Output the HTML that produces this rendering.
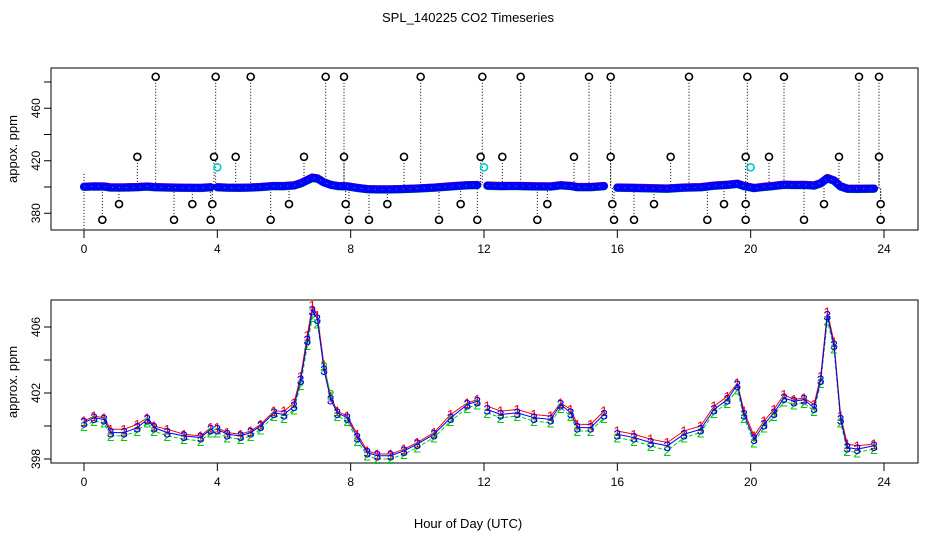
<!DOCTYPE html>
<html><head><meta charset="utf-8"><style>
body{margin:0;background:#fff;width:936px;height:540px;overflow:hidden}
svg{font-family:"Liberation Sans",sans-serif}
</style></head><body>
<svg id="c" width="936" height="540">
<text x="468" y="22" text-anchor="middle" font-size="13">SPL_140225  CO2 Timeseries</text>
<text x="468" y="528" text-anchor="middle" font-size="13">Hour of Day (UTC)</text>
<text transform="translate(17,149) rotate(-90)" text-anchor="middle" font-size="13">appox. ppm</text>
<text transform="translate(17,382) rotate(-90)" text-anchor="middle" font-size="13">approx. ppm</text>
<g id="topPanel"></g>
<g id="botPanel"></g>
</svg>
<script>
const hours=[0,0.3,0.6,0.8,1.2,1.6,1.9,2.1,2.5,3.0,3.5,3.8,3.9,4.0,4.3,4.7,5.0,5.3,5.7,6.0,6.3,6.5,6.7,6.85,7.0,7.2,7.4,7.6,7.9,8.2,8.5,8.8,9.2,9.6,10.0,10.5,11.0,11.5,11.8,11.9,12.1,12.5,13.0,13.5,14.0,14.3,14.6,14.8,15.2,15.6,15.8,16.0,16.5,17.0,17.5,18.0,18.5,18.9,19.3,19.6,19.8,20.1,20.4,20.7,21.0,21.3,21.6,21.9,22.1,22.3,22.5,22.7,22.9,23.2,23.7];
const s3=[400.2,400.5,400.4,399.6,399.6,399.9,400.4,399.9,399.6,399.4,399.3,399.8,null,399.8,399.5,399.4,399.6,400.0,400.8,400.7,401.2,402.8,405.2,407.0,406.5,403.4,401.6,400.8,400.5,399.3,398.4,398.2,398.2,398.5,398.9,399.5,400.5,401.3,401.5,null,401.0,400.7,400.8,400.5,400.4,401.3,400.8,399.9,399.9,400.7,null,399.5,399.3,399.0,398.8,399.5,399.8,401.0,401.6,402.5,400.7,399.2,400.1,400.8,401.7,401.5,401.6,401.1,402.8,406.7,404.9,400.4,398.7,398.6,398.8];
const s1=[400.3,400.6,400.5,399.8,399.8,400.1,400.5,400.0,399.8,399.5,399.4,399.9,null,399.9,399.6,399.5,399.7,400.1,400.9,400.9,401.4,403.0,405.5,407.3,406.7,403.7,401.8,400.9,400.6,399.5,398.5,398.3,398.3,398.6,399.0,399.6,400.7,401.4,401.6,null,401.2,400.9,401.0,400.7,400.6,401.4,401.0,400.1,400.1,400.9,null,399.7,399.5,399.2,399.0,399.7,400.0,401.2,401.8,402.6,400.9,399.4,400.3,401.0,401.9,401.6,401.7,401.3,403.0,406.9,405.1,400.6,398.9,398.8,398.9];
const s2=[400.0,400.3,400.2,399.4,399.4,399.7,400.2,399.7,399.4,399.2,399.1,399.6,null,399.6,399.3,399.2,399.4,399.8,400.6,400.5,401.0,402.5,404.9,406.6,406.2,403.6,401.9,400.6,400.3,399.1,398.2,398.0,398.0,398.3,398.7,399.3,400.3,401.1,401.3,null,400.8,400.5,400.6,400.3,400.2,401.1,400.6,399.7,399.7,400.5,null,399.3,399.1,398.8,398.5,399.3,399.6,400.8,401.4,402.2,400.5,399.0,399.9,400.6,401.5,401.3,401.4,400.9,402.6,406.4,404.7,400.2,398.5,398.4,398.6];
const outHours=[2.15,3.95,5.0,7.25,7.8,10.1,11.95,13.1,15.15,15.8,18.15,19.9,21.0,23.25,23.85,1.6,3.9,4.55,6.6,7.8,9.6,11.9,12.55,14.7,15.8,17.6,19.85,20.55,22.65,23.85,1.05,3.25,3.85,6.15,7.85,9.1,11.3,13.9,15.85,17.1,19.2,19.85,22.2,23.9,0.55,2.7,3.8,5.6,7.95,8.55,10.65,11.8,13.6,15.9,16.5,18.7,19.85,21.6,23.9];
const outVals=[484,484,484,484,484,484,484,484,484,484,484,484,484,484,484,423,423,423,423,423,423,423,423,423,423,423,423,423,423,423,387,387,387,387,387,387,387,387,387,387,387,387,387,387,375,375,375,375,375,375,375,375,375,375,375,375,375,375,375];
const calHours=[4.0,12.0,20.0];
const calVals=[415,415,415];
const xTicks=[0,4,8,12,16,20,24];
const topTicks=[380,400,420,440,460,480];
const topLabels=["380","","420","","460",""];
const botTicks=[398,400,402,404,406];
const botLabels=["398","","402","","406"];

const NS="http://www.w3.org/2000/svg";
function mk(p,t,a){const e=document.createElementNS(NS,t);for(const k in a)e.setAttribute(k,a[k]);p.appendChild(e);return e;}
const L=51,R=918;
const X=h=>84+h*(800/24);
const YT=v=>187-(v-400)*1.3125;
const YB=v=>393-(v-402)*16.5;
const gTop=document.getElementById('topPanel'),gBot=document.getElementById('botPanel');

function frame(g,t,b,ticks,labels,Y,ynm){
  const r=mk(g,'rect',{x:L,y:t,width:R-L,height:b-t,fill:'none',stroke:'#000','stroke-width':1});
  
  
  xTicks.forEach(h=>{
    mk(g,'line',{x1:X(h),x2:X(h),y1:b,y2:b+8,stroke:'#000'});
    const tx=mk(g,'text',{x:X(h),y:b+23,'text-anchor':'middle','font-size':12});
    tx.textContent=h;
    
    
  });
  ticks.forEach((v,i)=>{
    mk(g,'line',{x1:L-7,x2:L,y1:Y(v),y2:Y(v),stroke:'#000'});
    if(labels[i]){
      const tx=mk(g,'text',{transform:`translate(${L-11},${Y(v)}) rotate(-90)`,'text-anchor':'middle','font-size':12});
      tx.textContent=labels[i];
      
      
    }
  });
}
frame(gTop,68,230,topTicks,topLabels,YT,'top-y-tick-label');
frame(gBot,300,463,botTicks,botLabels,YB,'bottom-y-tick-label');

mk(gTop,'line',{x1:X(0),x2:X(0),y1:YT(410),y2:240,stroke:'#000','stroke-dasharray':'1,2'});
function nearest(h){let best=0;hours.forEach((x,i)=>{if(s3[i]!=null&&Math.abs(x-h)<Math.abs(hours[best]-h))best=i;});return s3[best];}
outHours.forEach((h,i)=>{
  mk(gTop,'line',{x1:X(h),x2:X(h),y1:YT(outVals[i]),y2:YT(nearest(h)),stroke:'#000','stroke-dasharray':'1,2'});
});
function pathOf(arr,Y){let d='',pen=false;hours.forEach((h,i)=>{if(arr[i]==null){pen=false;return;}d+=(pen?'L':'M')+X(h)+','+Y(arr[i]);pen=true;});return d;}
[[s1,'#f00'],[s2,'#0c0'],[s3,'#00f']].forEach(([a,c],k)=>{
  const p=mk(gTop,'path',{d:pathOf(a,YT),fill:'none',stroke:c,'stroke-width':8,'stroke-linecap':'round','stroke-linejoin':'round'});
  
  
});
mk(gTop,'path',{d:pathOf(s3,YT),fill:'none',stroke:'#0c0','stroke-width':1,'stroke-dasharray':'1,6'});
outHours.forEach((h,i)=>{
  const c=mk(gTop,'circle',{cx:X(h),cy:YT(outVals[i]),r:3.5,fill:'#fff',stroke:'#000','stroke-width':1.6});
  
  
});
calHours.forEach((h,i)=>{
  const c=mk(gTop,'circle',{cx:X(h),cy:YT(calVals[i]),r:3.5,fill:'none',stroke:'#0cc','stroke-width':1.6});
  
  
});

[[s1,'#f00','1'],[s2,'#0c0','2'],[s3,'#00f','3']].forEach(([a,c,lab],k)=>{
  const p=mk(gBot,'path',{d:pathOf(a,YB),fill:'none',stroke:c,'stroke-width':1,'stroke-dasharray':k==1?'4,2':'none'});
  
  
  hours.forEach((h,i)=>{
    if(a[i]==null)return;
    const t=mk(gBot,'text',{x:X(h),y:YB(a[i])+5,'text-anchor':'middle','font-size':14,fill:c});
    t.textContent=lab;
    
    
  });
});
</script>
</body></html>
